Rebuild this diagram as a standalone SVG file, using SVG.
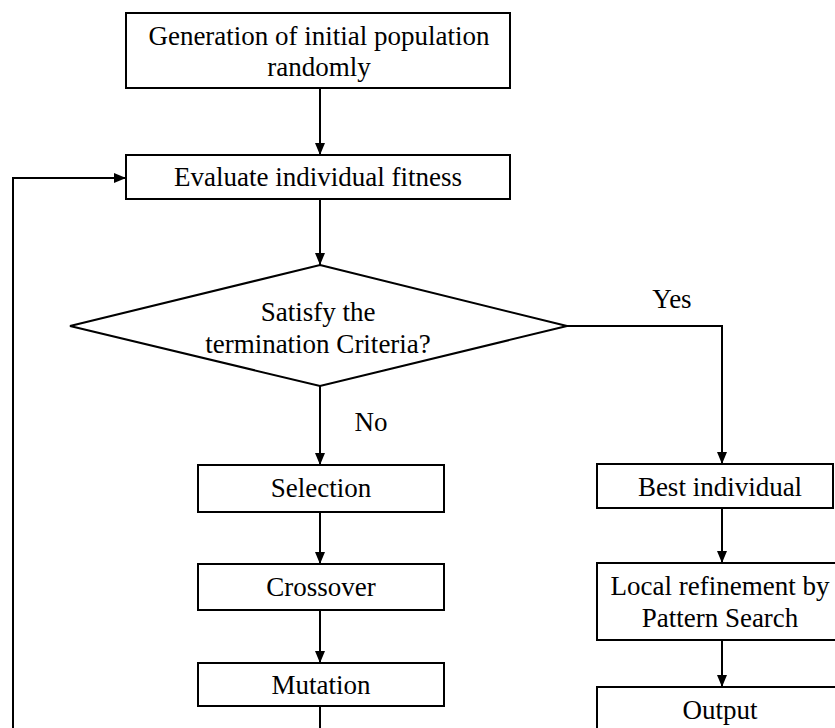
<svg xmlns="http://www.w3.org/2000/svg" width="835" height="728" viewBox="0 0 835 728">
<style>
.box{fill:#fff;stroke:#000;stroke-width:2}
.ln{fill:none;stroke:#000;stroke-width:2}
text{font-family:"Liberation Serif","Times New Roman",serif;font-size:27px;fill:#000;text-anchor:middle}
</style>
<defs>
<marker id="ah" viewBox="0 0 12 10" refX="12" refY="5" markerWidth="12" markerHeight="11" markerUnits="userSpaceOnUse" orient="auto">
<path d="M0,0 L12,5 L0,10 Z" fill="#000"/>
</marker>
</defs>
<rect width="835" height="728" fill="#fff"/>
<g id="connectors">
<path class="ln" d="M320,88 V155" marker-end="url(#ah)"/>
<path class="ln" d="M320,199 V265" marker-end="url(#ah)"/>
<path class="ln" d="M320,386 V465" marker-end="url(#ah)"/>
<path class="ln" d="M320,512 V564" marker-end="url(#ah)"/>
<path class="ln" d="M320,610 V663" marker-end="url(#ah)"/>
<path class="ln" d="M320,706 V728"/>
<path class="ln" d="M13,728 V178 H126" marker-end="url(#ah)"/>
<path class="ln" d="M567,326 H722 V464" marker-end="url(#ah)"/>
<path class="ln" d="M722,508 V563" marker-end="url(#ah)"/>
<path class="ln" d="M722,640 V687" marker-end="url(#ah)"/>
<text x="371" y="431">No</text>
<text x="672" y="308">Yes</text>
</g>
<g id="init">
<rect class="box" x="126" y="13" width="384" height="75"/>
<text x="319" y="45">Generation of initial population</text>
<text x="319" y="76">randomly</text>
</g>
<g id="evaluate">
<rect class="box" x="126" y="155" width="384" height="44"/>
<text x="318" y="186">Evaluate individual fitness</text>
</g>
<g id="decision">
<polygon class="box" points="320,265 567,326 320,386 70,326"/>
<text x="318" y="321">Satisfy the</text>
<text x="318" y="353">termination Criteria?</text>
</g>
<g id="selection">
<rect class="box" x="198" y="465" width="246" height="47"/>
<text x="321" y="497">Selection</text>
</g>
<g id="crossover">
<rect class="box" x="198" y="564" width="246" height="46"/>
<text x="321" y="596">Crossover</text>
</g>
<g id="mutation">
<rect class="box" x="198" y="663" width="246" height="43"/>
<text x="321" y="694">Mutation</text>
</g>
<g id="best">
<rect class="box" x="597" y="464" width="236" height="44"/>
<text x="720" y="496">Best individual</text>
</g>
<g id="refine">
<rect class="box" x="597" y="563" width="240" height="77"/>
<text x="720" y="595">Local refinement by</text>
<text x="720" y="627">Pattern Search</text>
</g>
<g id="output">
<rect class="box" x="597" y="687" width="240" height="50"/>
<text x="720" y="719">Output</text>
</g>
</svg>
